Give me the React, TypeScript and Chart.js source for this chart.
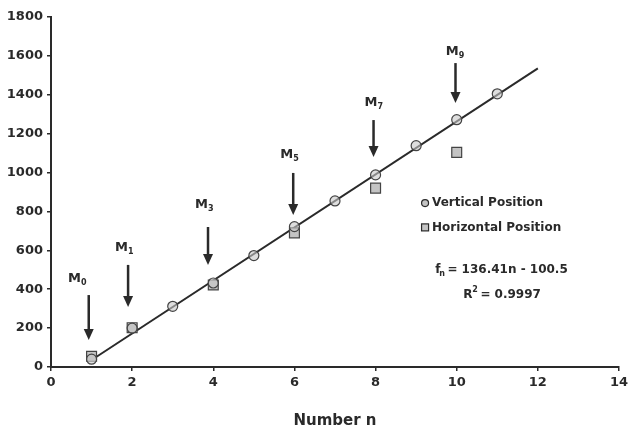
import React, { useEffect, useRef } from "react";
import { Chart, registerables } from "chart.js";

Chart.register(...registerables);

const verticalN = [1, 2, 3, 4, 5, 6, 7, 8, 9, 10, 11];
const verticalF = [40, 200, 312, 432, 573, 722, 854, 988, 1138, 1272, 1405];
const horizontalN = [1, 2, 4, 6, 8, 10];
const horizontalF = [55, 202, 422, 690, 920, 1104];
const trendN = [1, 12];
const trendF = [36, 1536];

const arrowLabels = ["0", "1", "3", "5", "7", "9"];
const arrowN = [0.93, 1.9, 3.87, 5.97, 7.95, 9.97];
const arrowTop = [370, 525, 720, 998, 1270, 1563];
const arrowTip = [139, 309, 525, 782, 1080, 1358];
const labelN = [0.42, 1.58, 3.55, 5.65, 7.73, 9.73];
const labelF = [455, 612, 833, 1090, 1358, 1620];

const xTicks = [0, 2, 4, 6, 8, 10, 12, 14];
const yTicks = [0, 200, 400, 600, 800, 1000, 1200, 1400, 1600, 1800];

const INK = "#2a2a2a";
const FONT = "'DejaVu Sans', Arial, sans-serif";

const annotate = {
  id: "annotate",
  afterDatasetsDraw(chart: any) {
    const { ctx, scales } = chart;
    const xs = scales.x;
    const ys = scales.y;
    ctx.save();
    ctx.fillStyle = INK;
    ctx.strokeStyle = INK;
    // arrows
    for (let i = 0; i < arrowN.length; i++) {
      const x = xs.getPixelForValue(arrowN[i]);
      const y0 = ys.getPixelForValue(arrowTop[i]);
      const y1 = ys.getPixelForValue(arrowTip[i]);
      ctx.lineWidth = 2.5;
      ctx.beginPath();
      ctx.moveTo(x, y0);
      ctx.lineTo(x, y1 - 9);
      ctx.stroke();
      ctx.beginPath();
      ctx.moveTo(x - 5, y1 - 11);
      ctx.lineTo(x + 5, y1 - 11);
      ctx.lineTo(x, y1);
      ctx.closePath();
      ctx.fill();
      // label
      const lx = xs.getPixelForValue(labelN[i]);
      const ly = ys.getPixelForValue(labelF[i]);
      ctx.font = `bold 13px ${FONT}`;
      ctx.textBaseline = "middle";
      ctx.textAlign = "left";
      ctx.fillText("M", lx, ly);
      const w = ctx.measureText("M").width;
      ctx.font = `bold 8px ${FONT}`;
      ctx.fillText(arrowLabels[i], lx + w, ly + 4);
    }
    // legend
    const legX = xs.getPixelForValue(9.22);
    const legY1 = ys.getPixelForValue(843);
    const legY2 = ys.getPixelForValue(718);
    ctx.lineWidth = 1.2;
    ctx.fillStyle = "#c4c4c4";
    ctx.beginPath();
    ctx.arc(legX, legY1, 3.5, 0, Math.PI * 2);
    ctx.fill();
    ctx.stroke();
    ctx.fillRect(legX - 3.5, legY2 - 3.5, 7, 7);
    ctx.strokeRect(legX - 3.5, legY2 - 3.5, 7, 7);
    ctx.fillStyle = INK;
    ctx.font = `bold 12px ${FONT}`;
    ctx.textAlign = "left";
    ctx.textBaseline = "middle";
    ctx.fillText("Vertical Position", legX + 7, legY1);
    ctx.fillText("Horizontal Position", legX + 7, legY2);
    // equation
    const ex = xs.getPixelForValue(9.47);
    const ey = ys.getPixelForValue(500);
    ctx.fillText("f", ex, ey);
    ctx.font = `bold 8px ${FONT}`;
    ctx.fillText("n", ex + 4, ey + 4);
    ctx.font = `bold 12px ${FONT}`;
    ctx.fillText(" = 136.41n - 100.5", ex + 8, ey);
    const rx = xs.getPixelForValue(10.16);
    const ry = ys.getPixelForValue(370);
    ctx.fillText("R", rx, ry);
    ctx.font = `bold 8px ${FONT}`;
    ctx.fillText("2", rx + 9, ry - 5);
    ctx.font = `bold 12px ${FONT}`;
    ctx.fillText(" = 0.9997", rx + 13, ry);
    ctx.restore();
  },
};

export default function App() {
  const ref = useRef<HTMLCanvasElement>(null);
  useEffect(() => {
    document.body.style.margin = "0";
    const chart = new Chart(ref.current!, {
      type: "scatter",
      data: {
        datasets: [
          {
            type: "line",
            label: "trend",
            data: trendN.map((n, i) => ({ x: n, y: trendF[i] })),
            borderColor: INK,
            borderWidth: 2,
            pointRadius: 0,
            fill: false,
            order: 3,
          } as any,
          {
            label: "Horizontal Position",
            data: horizontalN.map((n, i) => ({ x: n, y: horizontalF[i] })),
            pointStyle: "rect",
            pointRadius: 7,
            backgroundColor: "#c4c4c4",
            borderColor: "#444",
            borderWidth: 1.2,
            order: 2,
          },
          {
            label: "Vertical Position",
            data: verticalN.map((n, i) => ({ x: n, y: verticalF[i] })),
            pointStyle: "circle",
            pointRadius: 5,
            backgroundColor: "rgba(200,200,200,0.6)",
            borderColor: "#444",
            borderWidth: 1.2,
            order: 1,
          },
        ],
      },
      options: {
        animation: false,
        responsive: false,
        layout: { padding: { left: 0, top: 17, right: 9, bottom: 0 } },
        plugins: { legend: { display: false }, tooltip: { enabled: false } },
        scales: {
          x: {
            type: "linear",
            min: 0,
            max: 14,
            afterBuildTicks: (s: any) => {
              s.ticks = xTicks.map((v) => ({ value: v }));
            },
            afterFit: (s: any) => {
              s.height = 65;
              s.paddingLeft = 0;
              s.paddingRight = 0;
            },
            grid: { drawOnChartArea: false, drawTicks: true, tickLength: 4, color: INK, lineWidth: 1.5 },
            border: { display: true, color: INK, width: 2 },
            ticks: {
              color: INK,
              font: { family: FONT, size: 13, weight: "bold" },
              padding: 4,
              maxRotation: 0,
              callback: (v: any) => String(v),
            },
            title: {
              display: true,
              text: "Number n",
              color: INK,
              font: { family: FONT, size: 15, weight: "bold" },
              padding: { top: 0, bottom: 2 },
            },
          },
          y: {
            type: "linear",
            min: 0,
            max: 1800,
            afterBuildTicks: (s: any) => {
              s.ticks = yTicks.map((v) => ({ value: v }));
            },
            afterFit: (s: any) => {
              s.width = 51;
              s.paddingTop = 0;
              s.paddingBottom = 0;
            },
            grid: { drawOnChartArea: false, drawTicks: true, tickLength: 4, color: INK, lineWidth: 1.5 },
            border: { display: true, color: INK, width: 2 },
            ticks: {
              color: INK,
              font: { family: FONT, size: 13, weight: "bold" },
              padding: 4,
              callback: (v: any) => String(v),
            },
          },
        },
      },
      plugins: [annotate],
    });
    return () => chart.destroy();
  }, []);
  return (
    <div style={{ width: 628, height: 432, background: "#fff" }}>
      <canvas ref={ref} width={628} height={432} style={{ display: "block" }} />
    </div>
  );
}
